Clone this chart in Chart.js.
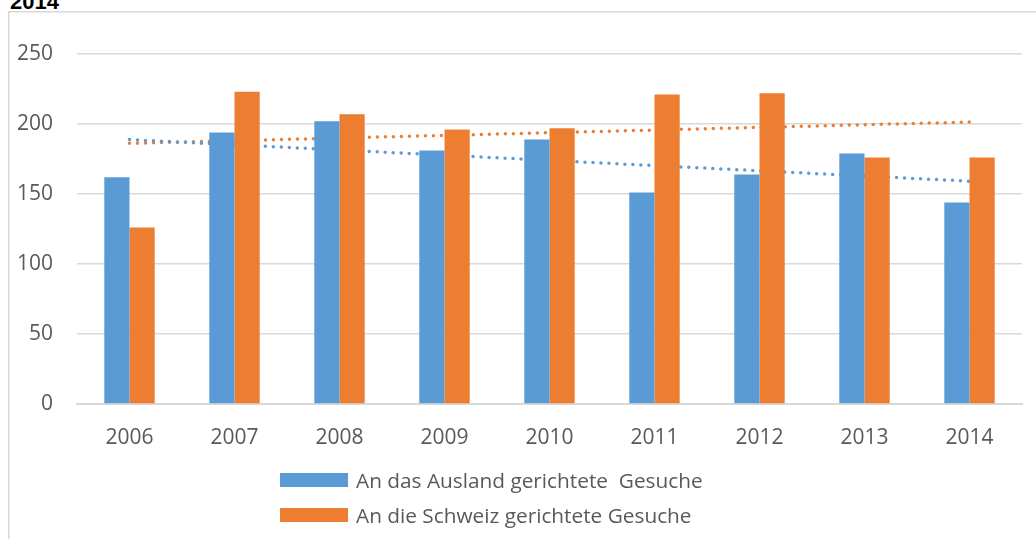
<!DOCTYPE html>
<html>
<head>
<meta charset="utf-8">
<script src="https://cdn.jsdelivr.net/npm/chart.js@4"></script>
<style>
  html, body { margin: 0; padding: 0; background: #fff; overflow: hidden; }
  body { width: 1036px; height: 539px; position: relative; font-family: "Open Sans", sans-serif; }
  #title { position: absolute; left: 10px; top: -11px; font: bold 22px "Liberation Sans", Arial, sans-serif; color: #000; }
  #wrap { position: absolute; left: 0; top: 0; width: 1036px; height: 539px; }
  #legend { position: absolute; left: 280px; top: 462px; color: #595959; font-size: 20.8px; white-space: pre; }
  .item { height: 35px; display: flex; align-items: center; }
  .sw { width: 68px; height: 14px; margin-right: 8px; }
</style>
</head>
<body>
<div id="title">2014</div>
<div id="wrap"><canvas id="c" width="1036" height="539"></canvas></div>
<div id="legend"></div>
<script>
const years = ['2006','2007','2008','2009','2010','2011','2012','2013','2014'];
const ausland = [162, 194, 202, 181, 189, 151, 164, 179, 144];
const schweiz = [126, 223, 207, 196, 197, 221, 222, 176, 176];
const yTicks = [0, 50, 100, 150, 200, 250];
const labels = ['An das Ausland gerichtete  Gesuche', 'An die Schweiz gerichtete Gesuche'];
const blue = '#5b9bd5', orange = '#ed7d31';

// linear trend (least squares), endpoints only
function trend(vals) {
  const n = vals.length;
  const mx = (n - 1) / 2;
  const my = vals.reduce((a, b) => a + b, 0) / n;
  let sxy = 0, sxx = 0;
  vals.forEach((v, i) => { sxy += (i - mx) * (v - my); sxx += (i - mx) * (i - mx); });
  const k = sxy / sxx;
  return [{ x: years[0], y: my - k * mx }, { x: years[n - 1], y: my + k * mx }];
}

// light frame, only left and top edges are visible in the original crop
const frame = {
  id: 'frame',
  beforeDraw(chart) {
    const ctx = chart.ctx;
    ctx.save();
    ctx.strokeStyle = '#d9d9d9';
    ctx.lineWidth = 1.5;
    ctx.beginPath();
    ctx.moveTo(8.75, chart.height);
    ctx.lineTo(8.75, 11.75);
    ctx.lineTo(chart.width, 11.75);
    ctx.stroke();
    ctx.restore();
  }
};

const tick = { family: 'Open Sans', size: 21 };

new Chart(document.getElementById('c'), {
  type: 'bar',
  data: {
    labels: years,
    datasets: [
      { label: labels[0], data: ausland, backgroundColor: blue, order: 1 },
      { label: labels[1], data: schweiz, backgroundColor: orange, order: 1 },
      { type: 'line', data: trend(ausland), borderColor: blue, borderWidth: 3.5, borderDash: [0, 8],
        borderCapStyle: 'round', pointRadius: 0, fill: false, order: 2 },
      { type: 'line', data: trend(schweiz), borderColor: orange, borderWidth: 3.5, borderDash: [0, 8],
        borderCapStyle: 'round', pointRadius: 0, fill: false, order: 2 }
    ]
  },
  options: {
    responsive: false,
    animation: false,
    layout: { padding: { top: 54, right: 14, left: 0, bottom: 0 } },
    datasets: { bar: { categoryPercentage: 0.48, barPercentage: 1 } },
    plugins: { legend: { display: false }, tooltip: { enabled: false } },
    scales: {
      x: {
        grid: { display: false },
        border: { color: '#d9d9d9', width: 2 },
        ticks: { color: '#595959', font: tick, padding: 13 },
        afterFit: s => { s.height = 135; }
      },
      y: {
        min: 0, max: 250,
        afterBuildTicks: s => { s.ticks = yTicks.map(v => ({ value: v })); },
        grid: { color: '#d9d9d9', lineWidth: 1.5, drawTicks: false },
        border: { display: false },
        ticks: { color: '#595959', font: tick, padding: 24 },
        afterFit: s => { s.width = 77; }
      }
    }
  },
  plugins: [frame]
});

document.getElementById('legend').innerHTML = labels.map((l, i) =>
  `<div class="item"><div class="sw" style="background:${i ? orange : blue}"></div><span>${l}</span></div>`).join('');
</script>
</body>
</html>
